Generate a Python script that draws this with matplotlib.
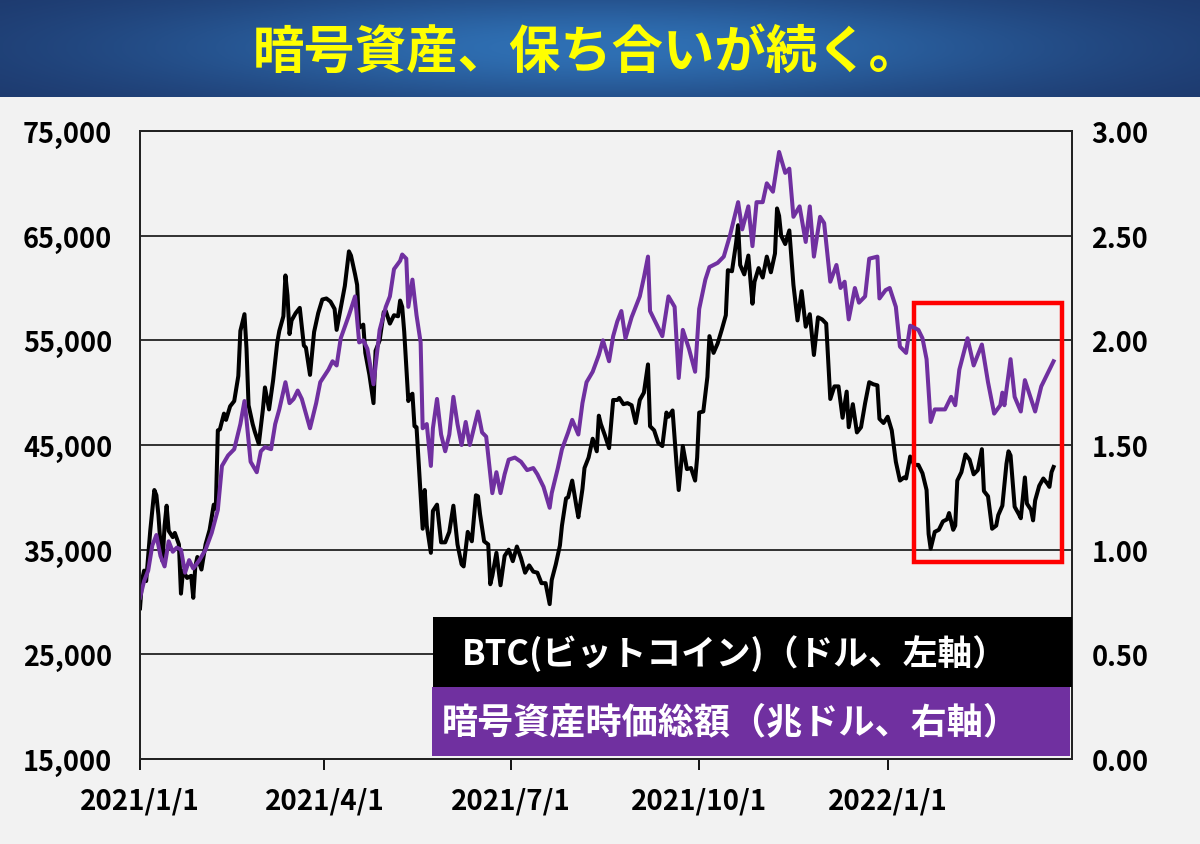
import matplotlib
matplotlib.use("Agg")
import matplotlib.pyplot as plt
import matplotlib.dates as mdates
from matplotlib.patches import Rectangle
import numpy as np
import pandas as pd

# BTC price (USD, left axis)
btc_dates = [
    "2021-01-01", "2021-01-02", "2021-01-03", "2021-01-04", "2021-01-06", "2021-01-08", "2021-01-09", "2021-01-10",
    "2021-01-11", "2021-01-12", "2021-01-13", "2021-01-14", "2021-01-15", "2021-01-17", "2021-01-18", "2021-01-20",
    "2021-01-21", "2021-01-22", "2021-01-24", "2021-01-26", "2021-01-27", "2021-01-28", "2021-01-29", "2021-01-31",
    "2021-02-02", "2021-02-04", "2021-02-06", "2021-02-07", "2021-02-08", "2021-02-09", "2021-02-11", "2021-02-12",
    "2021-02-14", "2021-02-16", "2021-02-18", "2021-02-19", "2021-02-21", "2021-02-22", "2021-02-23", "2021-02-25",
    "2021-02-26", "2021-02-28",
    "2021-03-02", "2021-03-03", "2021-03-05", "2021-03-07", "2021-03-09", "2021-03-10", "2021-03-12", "2021-03-13",
    "2021-03-14", "2021-03-15", "2021-03-16", "2021-03-18", "2021-03-20", "2021-03-22", "2021-03-23", "2021-03-25",
    "2021-03-27", "2021-03-29", "2021-03-31",
    "2021-04-02", "2021-04-04", "2021-04-06", "2021-04-07", "2021-04-09", "2021-04-11", "2021-04-13", "2021-04-14",
    "2021-04-16", "2021-04-17", "2021-04-18", "2021-04-20", "2021-04-21", "2021-04-23", "2021-04-25", "2021-04-26",
    "2021-04-28", "2021-04-30",
    "2021-05-01", "2021-05-03", "2021-05-05", "2021-05-07", "2021-05-08", "2021-05-09", "2021-05-10", "2021-05-12",
    "2021-05-13", "2021-05-14", "2021-05-15", "2021-05-16", "2021-05-17", "2021-05-19", "2021-05-20", "2021-05-21",
    "2021-05-23", "2021-05-24", "2021-05-26", "2021-05-28", "2021-05-30",
    "2021-06-01", "2021-06-03", "2021-06-05", "2021-06-07", "2021-06-08", "2021-06-10", "2021-06-12", "2021-06-14",
    "2021-06-15", "2021-06-16", "2021-06-18", "2021-06-20", "2021-06-21", "2021-06-22", "2021-06-24", "2021-06-26",
    "2021-06-28", "2021-06-30",
    "2021-07-02", "2021-07-04", "2021-07-06", "2021-07-08", "2021-07-10", "2021-07-12", "2021-07-14", "2021-07-16",
    "2021-07-18", "2021-07-20", "2021-07-21", "2021-07-23", "2021-07-25", "2021-07-26", "2021-07-28", "2021-07-29",
    "2021-07-31",
    "2021-08-02", "2021-08-03", "2021-08-05", "2021-08-06", "2021-08-08", "2021-08-10", "2021-08-12", "2021-08-13",
    "2021-08-14", "2021-08-16", "2021-08-18", "2021-08-20", "2021-08-22", "2021-08-23", "2021-08-25", "2021-08-27",
    "2021-08-29", "2021-08-31",
    "2021-09-02", "2021-09-04", "2021-09-06", "2021-09-07", "2021-09-09", "2021-09-11", "2021-09-13", "2021-09-15",
    "2021-09-16", "2021-09-18", "2021-09-20", "2021-09-21", "2021-09-23", "2021-09-25", "2021-09-27", "2021-09-29",
    "2021-09-30",
    "2021-10-01", "2021-10-03", "2021-10-05", "2021-10-06", "2021-10-08", "2021-10-10", "2021-10-12", "2021-10-14",
    "2021-10-15", "2021-10-17", "2021-10-19", "2021-10-20", "2021-10-21", "2021-10-23", "2021-10-25", "2021-10-27",
    "2021-10-28", "2021-10-30",
    "2021-11-01", "2021-11-03", "2021-11-05", "2021-11-07", "2021-11-08", "2021-11-09", "2021-11-10", "2021-11-12",
    "2021-11-14", "2021-11-16", "2021-11-18", "2021-11-20", "2021-11-22", "2021-11-24", "2021-11-26", "2021-11-28",
    "2021-11-30",
    "2021-12-02", "2021-12-04", "2021-12-06", "2021-12-08", "2021-12-10", "2021-12-12", "2021-12-13", "2021-12-15",
    "2021-12-17", "2021-12-19", "2021-12-21", "2021-12-23", "2021-12-25", "2021-12-27", "2021-12-28", "2021-12-30",
    "2022-01-01", "2022-01-03", "2022-01-05", "2022-01-07", "2022-01-09", "2022-01-10", "2022-01-12", "2022-01-14",
    "2022-01-16", "2022-01-18", "2022-01-20", "2022-01-21", "2022-01-22", "2022-01-24", "2022-01-26", "2022-01-28",
    "2022-01-30", "2022-01-31",
    "2022-02-02", "2022-02-03", "2022-02-04", "2022-02-06", "2022-02-08", "2022-02-10", "2022-02-12", "2022-02-14",
    "2022-02-16", "2022-02-17", "2022-02-19", "2022-02-21", "2022-02-23", "2022-02-24", "2022-02-26", "2022-02-28",
    "2022-03-01", "2022-03-02", "2022-03-04", "2022-03-06", "2022-03-07", "2022-03-09", "2022-03-10", "2022-03-12",
    "2022-03-13", "2022-03-14", "2022-03-16", "2022-03-18", "2022-03-20", "2022-03-21", "2022-03-22", "2022-03-23",
]
btc_usd = [
    29400, 32100, 33000, 32000, 36800, 40700, 40200, 38300, 35500, 33900, 37300, 39200, 36800, 36200, 36600, 35500,
    30800, 33000, 32300, 32500, 30400, 33400, 34300, 33100,
    35500, 36900, 39300, 38900, 46400, 46500, 48000, 47400, 48700, 49200, 51600, 55900, 57500, 54200, 48800, 47000,
    46300, 45100,
    48400, 50500, 48400, 51200, 54800, 55900, 57300, 61200, 59300, 55600, 56900, 57600, 58100, 54500, 54300, 51700,
    55800, 57600, 58900,
    59000, 58700, 58000, 56000, 58100, 60200, 63500, 63100, 61300, 60300, 56200, 56500, 53800, 51700, 49000, 54000,
    55000, 57700,
    57800, 56600, 57400, 57300, 58800, 58200, 55800, 49200, 49700, 49900, 46800, 46700, 43500, 37000, 40700, 37300,
    34700, 38700, 39300, 35700, 35700,
    36700, 39200, 35500, 33600, 33400, 36700, 35800, 40200, 40100, 38400, 35800, 35500, 31700, 32500, 34700, 31600,
    34400, 35000,
    33900, 35300, 34200, 32800, 33500, 32900, 32800, 31800, 31800, 29800, 32100, 33600, 35400, 37300, 39900, 40000,
    41600,
    39200, 38100, 40800, 42800, 43800, 45600, 44400, 47800, 47000, 45900, 44700, 49300, 49300, 49500, 48900, 49000,
    48800, 47100,
    49300, 50000, 52700, 46800, 46400, 45200, 44900, 48100, 47700, 48300, 43000, 40700, 44900, 42700, 42800, 41600,
    43800,
    48100, 48200, 51500, 55400, 53800, 54700, 56000, 57400, 61700, 61600, 64300, 66000, 62200, 61300, 63100, 58500,
    60600, 61900,
    61000, 63000, 61500, 63300, 67600, 66900, 65000, 64200, 65500, 60300, 56900, 59700, 56300, 57500, 53600, 57200,
    57000,
    56600, 49400, 50600, 50600, 47600, 50100, 46700, 48900, 46200, 46700, 49000, 51000, 50800, 50700, 47500, 47100,
    47700, 46400, 43400, 41600, 41900, 41800, 43900, 43100, 43100, 42300, 40700, 36500, 35100, 36700, 36900, 37700,
    37900, 38500,
    36900, 37300, 41600, 42400, 44100, 43600, 42200, 42600, 44600, 40600, 40100, 37000, 37300, 38300, 39200, 43200,
    44400, 44000, 39100, 38400, 38000, 41900, 39400, 38800, 37800, 39700, 41100, 41800, 41300, 41000, 42400, 42900,
]

# total crypto market cap (trillion USD, right axis)
cap_dates = [
    "2021-01-01", "2021-01-03", "2021-01-05", "2021-01-07", "2021-01-09", "2021-01-11", "2021-01-13", "2021-01-15",
    "2021-01-17", "2021-01-19", "2021-01-21", "2021-01-23", "2021-01-25", "2021-01-27", "2021-01-30",
    "2021-02-02", "2021-02-05", "2021-02-08", "2021-02-10", "2021-02-13", "2021-02-16", "2021-02-19", "2021-02-21",
    "2021-02-22", "2021-02-24", "2021-02-27",
    "2021-03-01", "2021-03-03", "2021-03-06", "2021-03-08", "2021-03-10", "2021-03-13", "2021-03-15", "2021-03-17",
    "2021-03-19", "2021-03-21", "2021-03-25", "2021-03-28", "2021-03-30",
    "2021-04-03", "2021-04-05", "2021-04-07", "2021-04-09", "2021-04-13", "2021-04-16", "2021-04-18", "2021-04-20",
    "2021-04-22", "2021-04-25", "2021-04-28",
    "2021-05-01", "2021-05-03", "2021-05-05", "2021-05-08", "2021-05-09", "2021-05-11", "2021-05-12", "2021-05-14",
    "2021-05-16", "2021-05-18", "2021-05-19", "2021-05-21", "2021-05-23", "2021-05-24", "2021-05-26", "2021-05-28",
    "2021-05-30",
    "2021-06-01", "2021-06-03", "2021-06-05", "2021-06-07", "2021-06-09", "2021-06-11", "2021-06-13", "2021-06-15",
    "2021-06-17", "2021-06-19", "2021-06-21", "2021-06-22", "2021-06-24", "2021-06-26", "2021-06-28", "2021-06-30",
    "2021-07-03", "2021-07-06", "2021-07-09", "2021-07-12", "2021-07-14", "2021-07-17", "2021-07-20", "2021-07-21",
    "2021-07-24", "2021-07-26", "2021-07-29", "2021-07-31",
    "2021-08-03", "2021-08-05", "2021-08-07", "2021-08-10", "2021-08-13", "2021-08-15", "2021-08-18", "2021-08-20",
    "2021-08-22", "2021-08-24", "2021-08-26", "2021-08-29",
    "2021-09-02", "2021-09-04", "2021-09-06", "2021-09-07", "2021-09-10", "2021-09-13", "2021-09-16", "2021-09-19",
    "2021-09-21", "2021-09-23", "2021-09-26", "2021-09-29",
    "2021-10-01", "2021-10-04", "2021-10-06", "2021-10-10", "2021-10-13", "2021-10-16", "2021-10-20", "2021-10-22",
    "2021-10-25", "2021-10-27", "2021-10-29",
    "2021-11-01", "2021-11-03", "2021-11-06", "2021-11-09", "2021-11-12", "2021-11-14", "2021-11-16", "2021-11-19",
    "2021-11-22", "2021-11-24", "2021-11-26", "2021-11-29",
    "2021-12-01", "2021-12-04", "2021-12-07", "2021-12-09", "2021-12-11", "2021-12-13", "2021-12-16", "2021-12-18",
    "2021-12-21", "2021-12-23", "2021-12-27", "2021-12-28", "2021-12-31",
    "2022-01-02", "2022-01-05", "2022-01-07", "2022-01-10", "2022-01-12", "2022-01-16", "2022-01-18", "2022-01-20",
    "2022-01-22", "2022-01-24", "2022-01-29",
    "2022-02-01", "2022-02-03", "2022-02-05", "2022-02-09", "2022-02-12", "2022-02-16", "2022-02-19", "2022-02-22",
    "2022-02-25", "2022-02-26", "2022-02-27",
    "2022-03-02", "2022-03-04", "2022-03-07", "2022-03-09", "2022-03-14", "2022-03-17", "2022-03-20", "2022-03-23",
]
cap_tn = [
    0.77, 0.85, 0.90, 1.02, 1.07, 0.97, 0.92, 1.04, 0.99, 1.01, 1.00, 0.89, 0.95, 0.91, 0.95,
    1.00, 1.08, 1.19, 1.40, 1.45, 1.48, 1.60, 1.71, 1.62, 1.42, 1.37,
    1.47, 1.49, 1.48, 1.60, 1.67, 1.80, 1.70, 1.72, 1.76, 1.72, 1.58, 1.70, 1.80,
    1.86, 1.90, 1.88, 2.01, 2.12, 2.21, 1.99, 2.00, 1.96, 1.79, 2.05,
    2.16, 2.21, 2.34, 2.38, 2.41, 2.39, 2.16, 2.29, 2.12, 1.99, 1.58, 1.60, 1.40, 1.58, 1.72, 1.55, 1.47,
    1.55, 1.73, 1.60, 1.50, 1.61, 1.50, 1.58, 1.66, 1.56, 1.54, 1.36, 1.27, 1.37, 1.27, 1.36, 1.43,
    1.44, 1.42, 1.38, 1.39, 1.36, 1.30, 1.20, 1.27, 1.39, 1.48, 1.56, 1.62,
    1.55, 1.70, 1.80, 1.85, 1.93, 2.00, 1.90, 2.02, 2.09, 2.14, 2.01, 2.11,
    2.21, 2.30, 2.40, 2.14, 2.08, 2.02, 2.21, 2.16, 1.82, 2.05, 1.96, 1.85,
    2.15, 2.29, 2.35, 2.37, 2.40, 2.50, 2.66, 2.53, 2.64, 2.45, 2.66,
    2.66, 2.75, 2.71, 2.90, 2.80, 2.82, 2.59, 2.64, 2.47, 2.64, 2.40, 2.59,
    2.56, 2.28, 2.36, 2.25, 2.28, 2.10, 2.25, 2.18, 2.21, 2.39, 2.40, 2.20, 2.24,
    2.25, 2.16, 1.97, 1.94, 2.07, 2.05, 2.01, 1.91, 1.61, 1.67, 1.67,
    1.73, 1.69, 1.86, 2.01, 1.88, 1.98, 1.80, 1.65, 1.69, 1.75, 1.69,
    1.91, 1.73, 1.66, 1.81, 1.66, 1.78, 1.84, 1.90,
]

tick_dates = ["2021-01-01", "2021-04-01", "2021-07-01", "2021-10-01", "2022-01-01"]
tick_labels = ["2021/1/1", "2021/4/1", "2021/7/1", "2021/10/1", "2022/1/1"]
left_ticks = [15000, 25000, 35000, 45000, 55000, 65000, 75000]
right_ticks = [0.0, 0.5, 1.0, 1.5, 2.0, 2.5, 3.0]

title = "暗号資産、保ち合いが続く。"
label_btc = "BTC(ビットコイン)（ドル、左軸）"
label_cap = "暗号資産時価総額（兆ドル、右軸）"

plt.rcParams['font.family'] = ['Noto Sans CJK JP', 'DejaVu Sans']

bg = "#f2f2f2"
purple = "#7030a0"

fig = plt.figure(figsize=(12, 8.45), dpi=100, facecolor=bg)

# title banner with a soft blue gradient
ax_t = fig.add_axes([0, 0.884, 1, 0.116])
xx, yy = np.meshgrid(np.linspace(-1, 1, 400), np.linspace(-1, 1, 60))
w = np.exp(-(xx / 0.8) ** 2 - (yy / 1.2) ** 2)
edge = np.array([0x1c, 0x35, 0x68]) / 255
center = np.array([0x2f, 0x70, 0xb4]) / 255
img = edge[None, None, :] + (center - edge)[None, None, :] * w[:, :, None]
ax_t.imshow(img, aspect="auto", extent=[0, 1, 0, 1])
ax_t.set_xlim(0, 1)
ax_t.set_ylim(0, 1)
ax_t.axis("off")
ax_t.text(0.489, 0.47, title, color="#ffff00", fontsize=37, fontweight="bold",
          ha="center", va="center")

ax = fig.add_axes([140 / 1200, 85 / 845, 932 / 1200, 628 / 845])
ax.set_facecolor(bg)
ax2 = ax.twinx()

bd = pd.to_datetime(btc_dates)
cd = pd.to_datetime(cap_dates)
ax.plot(bd, btc_usd, color="black", lw=2.9, zorder=3)
ax2.plot(cd, cap_tn, color=purple, lw=2.9, zorder=2)

ax.set_ylim(15000, 75000)
ax2.set_ylim(0, 3)
ax.set_xlim(pd.Timestamp("2021-01-01"), pd.Timestamp("2022-04-01"))

ax.set_yticks(left_ticks)
ax.set_yticklabels([f"{v:,}" for v in left_ticks])
ax2.set_yticks(right_ticks)
ax2.set_yticklabels([f"{v:.2f}" for v in right_ticks])
ax.set_xticks(pd.to_datetime(tick_dates))
ax.set_xticklabels(tick_labels)

ax.grid(axis="y", color="#222222", lw=1.3)
ax.set_axisbelow(True)
for a in (ax, ax2):
    for s in a.spines.values():
        s.set_color("#222222")
        s.set_linewidth(1.3)

ax.tick_params(axis="y", length=0, pad=20, labelsize=19.5)
ax2.tick_params(axis="y", length=0, pad=14, labelsize=19.5)
ax.tick_params(axis="x", length=8, width=1.3, direction="out", pad=12, labelsize=20)
for lab in ax.get_yticklabels() + ax.get_xticklabels() + ax2.get_yticklabels():
    lab.set_fontweight("bold")

# red highlight box over the recent range
ax.add_patch(Rectangle((mdates.date2num(pd.Timestamp("2022-01-14")), 33835),
                       mdates.date2num(pd.Timestamp("2022-03-27")) - mdates.date2num(pd.Timestamp("2022-01-14")),
                       58572 - 33835, fill=False, edgecolor="#ff0000", lw=3.2, zorder=5))

# legend boxes
ax2.add_patch(Rectangle((0.3144, 0.1146), 0.6856, 0.1115, transform=ax2.transAxes,
                        facecolor="black", edgecolor="none", zorder=6))
ax2.add_patch(Rectangle((0.3133, 0.0048), 0.6845, 0.1098, transform=ax2.transAxes,
                        facecolor=purple, edgecolor="none", zorder=6))
ax2.text(0.345, 0.170, label_btc, transform=ax2.transAxes, color="white",
         fontsize=25, fontweight="bold", ha="left", va="center", zorder=7)
ax2.text(0.324, 0.060, label_cap, transform=ax2.transAxes, color="white",
         fontsize=26, fontweight="bold", ha="left", va="center", zorder=7)

fig.savefig("out.png", dpi=100, facecolor=bg)
